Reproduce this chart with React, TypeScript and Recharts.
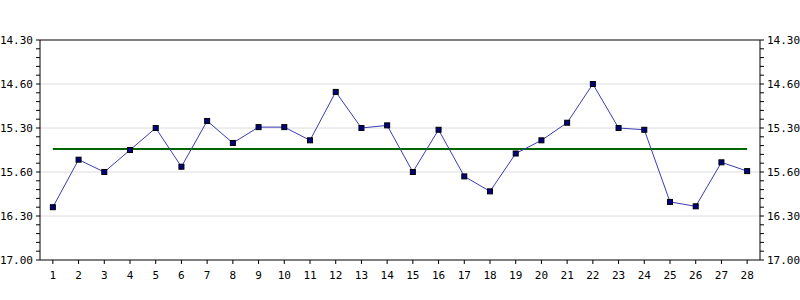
import { ComposedChart, Line, XAxis, YAxis, ReferenceLine } from 'recharts';

// lap times in minutes (axis labels use the m.ss-ish format of the source)
const days = [
  '1', '2', '3', '4', '5', '6', '7', '8', '9', '10', '11', '12', '13', '14',
  '15', '16', '17', '18', '19', '20', '21', '22', '23', '24', '25', '26', '27', '28',
];
const times = [
  16.4, 15.86, 16.0, 15.75, 15.5, 15.94, 15.42, 15.67, 15.49, 15.49, 15.64, 15.09, 15.5, 15.47,
  16.0, 15.52, 16.05, 16.22, 15.79, 15.64, 15.44, 15.0, 15.5, 15.52, 16.34, 16.39, 15.89, 15.99,
];
const average = 15.74;

const yTicks = [
  14.5, 14.6, 14.7, 14.8, 14.9, 15.0, 15.1, 15.2, 15.3, 15.4, 15.5, 15.6, 15.7,
  15.8, 15.9, 16.0, 16.1, 16.2, 16.3, 16.4, 16.5, 16.6, 16.7, 16.8, 16.9, 17.0,
];
const yLabelValues = [14.5, 15.0, 15.5, 16.0, 16.5, 17.0];
const yLabels = ['14.30', '14.60', '15.30', '15.60', '16.30', '17.00'];

const chartData = days.map((day, i) => ({ day, value: times[i], avg: average }));

const tickStyle = { fontSize: 11, fill: '#000', fontFamily: 'DejaVu Sans Mono' };

const formatY = (v: number) => {
  const i = yLabelValues.findIndex((m) => Math.abs(m - v) < 1e-6);
  return i >= 0 ? yLabels[i] : '';
};

const SquareDot = (props: any) => {
  const { cx, cy } = props;
  if (cx == null || cy == null) return null;
  return <rect x={cx - 2.5} y={cy - 2.5} width={5} height={5} fill="#000080" stroke="#000" strokeWidth={1} />;
};

export default function App() {
  return (
    <div style={{ position: 'absolute', left: 0, top: 0, width: 800, height: 300, background: '#fff' }}>
      <ComposedChart width={800} height={300} data={chartData} margin={{ top: 40, right: 0, bottom: 10, left: 0 }}>
        <XAxis
          dataKey="day"
          scale="band"
          interval={0}
          height={30}
          tick={tickStyle}
          tickSize={4}
          tickMargin={7}
          axisLine={{ stroke: '#000' }}
          tickLine={{ stroke: '#000' }}
        />
        <YAxis
          yAxisId="left"
          domain={[14.5, 17]}
          reversed
          ticks={yTicks}
          interval={0}
          width={40}
          tick={tickStyle}
          tickFormatter={formatY}
          tickSize={4}
          tickMargin={3}
          axisLine={{ stroke: '#000' }}
          tickLine={{ stroke: '#000' }}
        />
        <YAxis
          yAxisId="right"
          orientation="right"
          domain={[14.5, 17]}
          reversed
          ticks={yTicks}
          interval={0}
          width={40}
          tick={tickStyle}
          tickFormatter={formatY}
          tickSize={4}
          tickMargin={3}
          axisLine={{ stroke: '#000' }}
          tickLine={{ stroke: '#000' }}
        />
        {yLabelValues.slice(1, -1).map((v) => (
          <ReferenceLine key={v} yAxisId="left" y={v} stroke="#dcdcdc" />
        ))}
        <ReferenceLine yAxisId="left" y={14.5} stroke="#000" />
        {/* invisible copy so the right axis has a series and draws its ticks */}
        <Line
          yAxisId="right"
          dataKey="value"
          stroke="none"
          dot={false}
          activeDot={false}
          isAnimationActive={false}
        />
        <Line
          yAxisId="left"
          dataKey="avg"
          stroke="#006400"
          strokeWidth={2}
          dot={false}
          isAnimationActive={false}
        />
        <Line
          yAxisId="left"
          dataKey="value"
          type="linear"
          stroke="#3c3cb4"
          strokeWidth={1}
          dot={<SquareDot />}
          activeDot={false}
          isAnimationActive={false}
        />
      </ComposedChart>
    </div>
  );
}
